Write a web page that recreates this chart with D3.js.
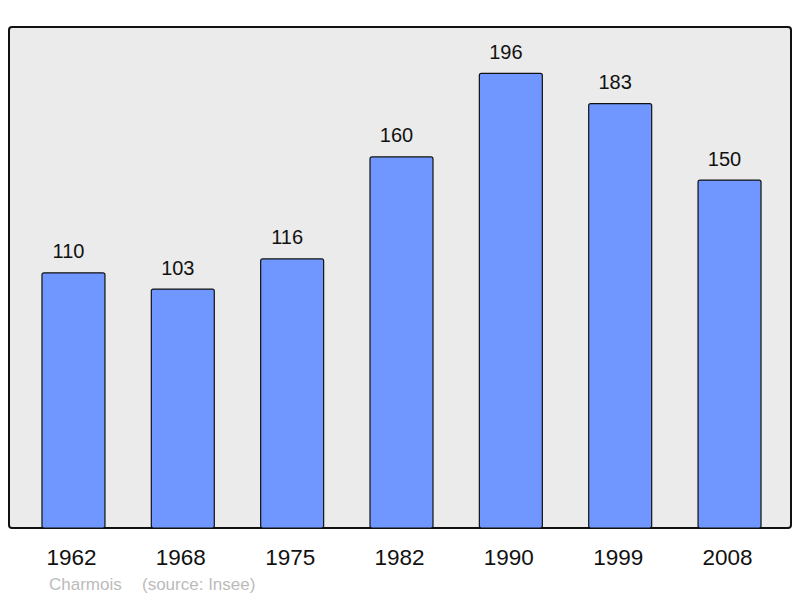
<!DOCTYPE html>
<html>
<head>
<meta charset="utf-8">
<script src="https://cdn.jsdelivr.net/npm/d3@7"></script>
<style>
  body { margin: 0; background: #fff; }
  svg { display: block; font-family: "Liberation Sans", Arial, sans-serif; }
</style>
</head>
<body>
<div id="chart"></div>
<script>
const years = ["1962", "1968", "1975", "1982", "1990", "1999", "2008"];
const population = [110, 103, 116, 160, 196, 183, 150];
const townName = "Charmois";
const sourceNote = "(source: Insee)";

const width = 800;
const height = 598;
const frame = { left: 9, top: 27, right: 791, bottom: 528 };

const svg = d3.select("#chart")
  .append("svg")
  .attr("width", width)
  .attr("height", height);

svg.append("rect")
  .attr("x", frame.left)
  .attr("y", frame.top)
  .attr("width", frame.right - frame.left)
  .attr("height", frame.bottom - frame.top)
  .attr("rx", 3)
  .attr("fill", "#ebebeb")
  .attr("stroke", "#111")
  .attr("stroke-width", 2);

// centres sit one step apart, half a step in from each end of the range
const x = d3.scaleBand()
  .domain(years)
  .range([18.8, 784.2])
  .paddingInner(0.424)
  .paddingOuter(0.212);

const y = d3.scaleLinear()
  .domain([0, 216])
  .range([frame.bottom, frame.top]);

const rows = years.map((year, i) => ({ year, value: population[i] }));

svg.append("g")
  .selectAll("rect")
  .data(rows)
  .join("rect")
  .attr("x", (d) => x(d.year))
  .attr("y", (d) => y(d.value))
  .attr("width", x.bandwidth())
  .attr("height", (d) => frame.bottom - y(d.value))
  .attr("rx", 2)
  .attr("fill", "#7097ff")
  .attr("stroke", "#111")
  .attr("stroke-width", 1.2);

// value labels sit a little left of the bar centre, as in the original
svg.append("g")
  .selectAll("text")
  .data(rows)
  .join("text")
  .attr("x", (d) => x(d.year) + x.bandwidth() / 2 - 5)
  .attr("y", (d) => y(d.value) - 14.5)
  .attr("text-anchor", "middle")
  .attr("font-size", 20)
  .attr("fill", "#111")
  .text((d) => d.value);

const axis = d3.axisBottom(x).tickSize(0).tickPadding(0);
const axisGroup = svg.append("g")
  .attr("transform", `translate(0, ${frame.bottom})`)
  .call(axis);
axisGroup.select(".domain").remove();
axisGroup.selectAll("text")
  .attr("dy", 0)
  .attr("x", -2)
  .attr("y", 37)
  .attr("font-size", 22.5)
  .attr("font-family", "Liberation Sans, Arial, sans-serif")
  .attr("fill", "#111");

svg.append("text")
  .attr("x", 49)
  .attr("y", 590)
  .attr("font-size", 17)
  .attr("fill", "#bbb")
  .text(townName);

svg.append("text")
  .attr("x", 142)
  .attr("y", 590)
  .attr("font-size", 17)
  .attr("fill", "#bbb")
  .text(sourceNote);
</script>
</body>
</html>
